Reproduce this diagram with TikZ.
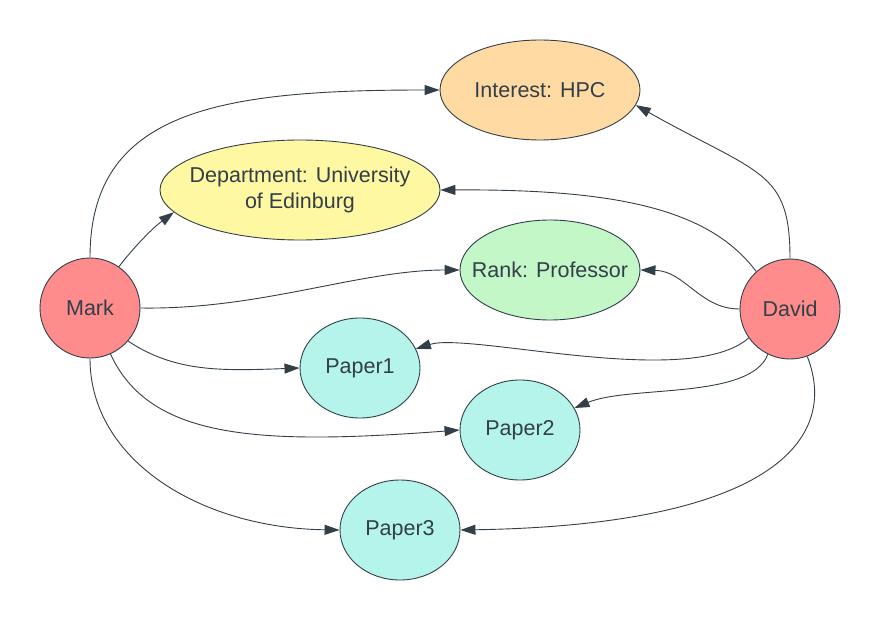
\documentclass[tikz,border=0pt]{standalone}
\usepackage{fontspec}
\setmainfont{Liberation Sans}
\usetikzlibrary{shapes.geometric,arrows.meta}
\definecolor{ink}{HTML}{333F48}
\definecolor{personfill}{HTML}{FF8C8C}
\definecolor{interestfill}{HTML}{FFDBA3}
\definecolor{deptfill}{HTML}{FFF8A3}
\definecolor{rankfill}{HTML}{C3F7C8}
\definecolor{paperfill}{HTML}{B5F4EB}
\tikzset{
  txt/.style={text=ink, inner sep=0pt, align=center,
    font=\fontsize{21.5}{26}\selectfont},
  base/.style={draw=ink, line width=0.9pt, inner sep=0pt},
  person/.style={base, circle, fill=personfill, minimum size=100pt},
  oval/.style={base, ellipse, minimum height=100pt},
  link/.style={draw=ink, line width=0.9pt, -{Triangle[length=15pt,width=10pt]}},
}
\begin{document}
\begin{tikzpicture}[x=1pt, y=-1pt]
\useasboundingbox (0,0) rectangle (880,620);
\node[person, label={[txt]center:Mark}] (mark) at (90,308) {};
\node[person, label={[txt]center:David}] (david) at (790,309) {};
\node[oval, fill=interestfill, minimum width=200pt, label={[txt]center:Interest: HPC}] (interest) at (540,90) {};
\node[oval, fill=deptfill, minimum width=280pt, label={[txt]center:{Department: University\\of Edinburg}}] (dept) at (300,190) {};
\node[oval, fill=rankfill, minimum width=180pt, label={[txt]center:Rank: Professor}] (rank) at (550,270) {};
\node[oval, fill=paperfill, minimum width=120pt, label={[txt]center:Paper1}] (paper1) at (360,368) {};
\node[oval, fill=paperfill, minimum width=120pt, label={[txt]center:Paper2}] (paper2) at (520,430) {};
\node[oval, fill=paperfill, minimum width=120pt, label={[txt]center:Paper3}] (paper3) at (400,530) {};

\draw[link] (mark.90) .. controls (90,110) and (220,90) .. (interest.180);
\draw[link] (mark.55) .. controls (130,252) and (150,230) .. (dept.-170);
\draw[link] (mark.0) .. controls (260,310) and (360,270) .. (rank.180);
\draw[link] (mark.-41) .. controls (175,372) and (220,371) .. (paper1.180);
\draw[link] (mark.-66) .. controls (150,440) and (260,445) .. (paper2.180);
\draw[link] (mark.-90) .. controls (90,460) and (200,528) .. (paper3.180);

\draw[link] (david.90) .. controls (790,170) and (760,175) .. (interest.-9);
\draw[link] (david.132) .. controls (710,210) and (620,189) .. (dept.0);
\draw[link] (david.180) .. controls (700,309) and (685,271) .. (rank.0);
\draw[link] (david.-145) .. controls (690,390) and (470,332) .. (paper1.19);
\draw[link] (david.-116) .. controls (750,400) and (630,385) .. (paper2.22);
\draw[link] (david.-70) .. controls (840,440) and (770,525) .. (paper3.0);
\end{tikzpicture}
\end{document}
